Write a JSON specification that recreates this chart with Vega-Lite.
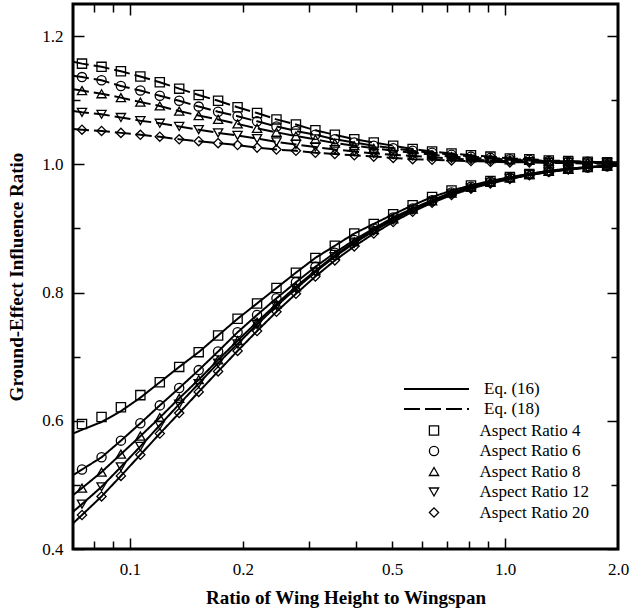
{
  "$schema": "https://vega.github.io/schema/vega-lite/v6.json",
  "width": 545,
  "height": 545,
  "autosize": {"type": "none"},
  "padding": {"left": 73, "top": 4, "right": 13, "bottom": 64},
  "background": "white",
  "config": {
    "font": "Liberation Serif",
    "view": {"stroke": "black", "strokeWidth": 3},
    "axis": {"grid": false, "domain": false, "labelFont": "Liberation Serif", "labelFontSize": 17, "labelColor": "black", "tickColor": "black", "tickWidth": 1.5, "titleFont": "Liberation Serif", "titleFontWeight": "bold", "titleFontSize": 19, "titleColor": "black"},
    "legend": {"labelFont": "Liberation Serif", "labelFontSize": 17, "labelColor": "black", "padding": 0, "title": null}
  },
  "datasets": {
    "d": [
      {"h":0.0705,"v":0.580,"a":"4","e":"16","t":"l"},
      {"h":0.0745,"v":0.586,"a":"4","e":"16","t":"l"},
      {"h":0.0840,"v":0.598,"a":"4","e":"16","t":"l"},
      {"h":0.0946,"v":0.615,"a":"4","e":"16","t":"l"},
      {"h":0.1066,"v":0.636,"a":"4","e":"16","t":"l"},
      {"h":0.0745,"v":0.595,"a":"4","e":"16","t":"m"},
      {"h":0.0840,"v":0.606,"a":"4","e":"16","t":"m"},
      {"h":0.0946,"v":0.621,"a":"4","e":"16","t":"m"},
      {"h":0.1066,"v":0.640,"a":"4","e":"16","t":"m"},
      {"h":0.1201,"v":0.660,"a":"4","e":"16","t":"b"},
      {"h":0.1353,"v":0.684,"a":"4","e":"16","t":"b"},
      {"h":0.1525,"v":0.707,"a":"4","e":"16","t":"b"},
      {"h":0.1718,"v":0.733,"a":"4","e":"16","t":"b"},
      {"h":0.1936,"v":0.759,"a":"4","e":"16","t":"b"},
      {"h":0.2182,"v":0.783,"a":"4","e":"16","t":"b"},
      {"h":0.2458,"v":0.807,"a":"4","e":"16","t":"b"},
      {"h":0.2770,"v":0.831,"a":"4","e":"16","t":"b"},
      {"h":0.3121,"v":0.854,"a":"4","e":"16","t":"b"},
      {"h":0.3517,"v":0.873,"a":"4","e":"16","t":"b"},
      {"h":0.3963,"v":0.892,"a":"4","e":"16","t":"b"},
      {"h":0.4466,"v":0.907,"a":"4","e":"16","t":"b"},
      {"h":0.5032,"v":0.922,"a":"4","e":"16","t":"b"},
      {"h":0.5670,"v":0.936,"a":"4","e":"16","t":"b"},
      {"h":0.6389,"v":0.949,"a":"4","e":"16","t":"b"},
      {"h":0.7199,"v":0.959,"a":"4","e":"16","t":"b"},
      {"h":0.8112,"v":0.967,"a":"4","e":"16","t":"b"},
      {"h":0.9140,"v":0.974,"a":"4","e":"16","t":"b"},
      {"h":1.0299,"v":0.980,"a":"4","e":"16","t":"b"},
      {"h":1.1605,"v":0.985,"a":"4","e":"16","t":"b"},
      {"h":1.3077,"v":0.990,"a":"4","e":"16","t":"b"},
      {"h":1.4735,"v":0.993,"a":"4","e":"16","t":"b"},
      {"h":1.6603,"v":0.996,"a":"4","e":"16","t":"b"},
      {"h":1.8708,"v":0.998,"a":"4","e":"16","t":"b"},
      {"h":2.0,"v":0.998,"a":"4","e":"16","t":"l"},

      {"h":0.0705,"v":0.515,"a":"6","e":"16","t":"l"},
      {"h":0.0745,"v":0.524,"a":"6","e":"16","t":"b"},
      {"h":0.0840,"v":0.543,"a":"6","e":"16","t":"b"},
      {"h":0.0946,"v":0.569,"a":"6","e":"16","t":"b"},
      {"h":0.1066,"v":0.596,"a":"6","e":"16","t":"b"},
      {"h":0.1201,"v":0.624,"a":"6","e":"16","t":"b"},
      {"h":0.1353,"v":0.651,"a":"6","e":"16","t":"b"},
      {"h":0.1525,"v":0.679,"a":"6","e":"16","t":"b"},
      {"h":0.1718,"v":0.708,"a":"6","e":"16","t":"b"},
      {"h":0.1936,"v":0.738,"a":"6","e":"16","t":"b"},
      {"h":0.2182,"v":0.765,"a":"6","e":"16","t":"b"},
      {"h":0.2458,"v":0.791,"a":"6","e":"16","t":"b"},
      {"h":0.2770,"v":0.816,"a":"6","e":"16","t":"b"},
      {"h":0.3121,"v":0.840,"a":"6","e":"16","t":"b"},
      {"h":0.3517,"v":0.862,"a":"6","e":"16","t":"b"},
      {"h":0.3963,"v":0.882,"a":"6","e":"16","t":"b"},
      {"h":0.4466,"v":0.900,"a":"6","e":"16","t":"b"},
      {"h":0.5032,"v":0.917,"a":"6","e":"16","t":"b"},
      {"h":0.5670,"v":0.931,"a":"6","e":"16","t":"b"},
      {"h":0.6389,"v":0.944,"a":"6","e":"16","t":"b"},
      {"h":0.7199,"v":0.956,"a":"6","e":"16","t":"b"},
      {"h":0.8112,"v":0.965,"a":"6","e":"16","t":"b"},
      {"h":0.9140,"v":0.973,"a":"6","e":"16","t":"b"},
      {"h":1.0299,"v":0.979,"a":"6","e":"16","t":"b"},
      {"h":1.1605,"v":0.985,"a":"6","e":"16","t":"b"},
      {"h":1.3077,"v":0.989,"a":"6","e":"16","t":"b"},
      {"h":1.4735,"v":0.993,"a":"6","e":"16","t":"b"},
      {"h":1.6603,"v":0.995,"a":"6","e":"16","t":"b"},
      {"h":1.8708,"v":0.997,"a":"6","e":"16","t":"b"},
      {"h":2.0,"v":0.998,"a":"6","e":"16","t":"l"},

      {"h":0.0705,"v":0.484,"a":"8","e":"16","t":"l"},
      {"h":0.0745,"v":0.495,"a":"8","e":"16","t":"b"},
      {"h":0.0840,"v":0.520,"a":"8","e":"16","t":"b"},
      {"h":0.0946,"v":0.548,"a":"8","e":"16","t":"b"},
      {"h":0.1066,"v":0.576,"a":"8","e":"16","t":"b"},
      {"h":0.1201,"v":0.605,"a":"8","e":"16","t":"b"},
      {"h":0.1353,"v":0.635,"a":"8","e":"16","t":"b"},
      {"h":0.1525,"v":0.664,"a":"8","e":"16","t":"b"},
      {"h":0.1718,"v":0.695,"a":"8","e":"16","t":"b"},
      {"h":0.1936,"v":0.725,"a":"8","e":"16","t":"b"},
      {"h":0.2182,"v":0.754,"a":"8","e":"16","t":"b"},
      {"h":0.2458,"v":0.782,"a":"8","e":"16","t":"b"},
      {"h":0.2770,"v":0.809,"a":"8","e":"16","t":"b"},
      {"h":0.3121,"v":0.834,"a":"8","e":"16","t":"b"},
      {"h":0.3517,"v":0.858,"a":"8","e":"16","t":"b"},
      {"h":0.3963,"v":0.879,"a":"8","e":"16","t":"b"},
      {"h":0.4466,"v":0.898,"a":"8","e":"16","t":"b"},
      {"h":0.5032,"v":0.915,"a":"8","e":"16","t":"b"},
      {"h":0.5670,"v":0.930,"a":"8","e":"16","t":"b"},
      {"h":0.6389,"v":0.943,"a":"8","e":"16","t":"b"},
      {"h":0.7199,"v":0.955,"a":"8","e":"16","t":"b"},
      {"h":0.8112,"v":0.964,"a":"8","e":"16","t":"b"},
      {"h":0.9140,"v":0.972,"a":"8","e":"16","t":"b"},
      {"h":1.0299,"v":0.979,"a":"8","e":"16","t":"b"},
      {"h":1.1605,"v":0.984,"a":"8","e":"16","t":"b"},
      {"h":1.3077,"v":0.989,"a":"8","e":"16","t":"b"},
      {"h":1.4735,"v":0.992,"a":"8","e":"16","t":"b"},
      {"h":1.6603,"v":0.995,"a":"8","e":"16","t":"b"},
      {"h":1.8708,"v":0.997,"a":"8","e":"16","t":"b"},
      {"h":2.0,"v":0.998,"a":"8","e":"16","t":"l"},

      {"h":0.0705,"v":0.458,"a":"12","e":"16","t":"l"},
      {"h":0.0745,"v":0.470,"a":"12","e":"16","t":"b"},
      {"h":0.0840,"v":0.497,"a":"12","e":"16","t":"b"},
      {"h":0.0946,"v":0.528,"a":"12","e":"16","t":"b"},
      {"h":0.1066,"v":0.560,"a":"12","e":"16","t":"b"},
      {"h":0.1201,"v":0.593,"a":"12","e":"16","t":"b"},
      {"h":0.1353,"v":0.626,"a":"12","e":"16","t":"b"},
      {"h":0.1525,"v":0.658,"a":"12","e":"16","t":"b"},
      {"h":0.1718,"v":0.690,"a":"12","e":"16","t":"b"},
      {"h":0.1936,"v":0.720,"a":"12","e":"16","t":"b"},
      {"h":0.2182,"v":0.750,"a":"12","e":"16","t":"b"},
      {"h":0.2458,"v":0.779,"a":"12","e":"16","t":"b"},
      {"h":0.2770,"v":0.806,"a":"12","e":"16","t":"b"},
      {"h":0.3121,"v":0.832,"a":"12","e":"16","t":"b"},
      {"h":0.3517,"v":0.856,"a":"12","e":"16","t":"b"},
      {"h":0.3963,"v":0.877,"a":"12","e":"16","t":"b"},
      {"h":0.4466,"v":0.896,"a":"12","e":"16","t":"b"},
      {"h":0.5032,"v":0.913,"a":"12","e":"16","t":"b"},
      {"h":0.5670,"v":0.929,"a":"12","e":"16","t":"b"},
      {"h":0.6389,"v":0.942,"a":"12","e":"16","t":"b"},
      {"h":0.7199,"v":0.954,"a":"12","e":"16","t":"b"},
      {"h":0.8112,"v":0.963,"a":"12","e":"16","t":"b"},
      {"h":0.9140,"v":0.971,"a":"12","e":"16","t":"b"},
      {"h":1.0299,"v":0.978,"a":"12","e":"16","t":"b"},
      {"h":1.1605,"v":0.984,"a":"12","e":"16","t":"b"},
      {"h":1.3077,"v":0.988,"a":"12","e":"16","t":"b"},
      {"h":1.4735,"v":0.992,"a":"12","e":"16","t":"b"},
      {"h":1.6603,"v":0.995,"a":"12","e":"16","t":"b"},
      {"h":1.8708,"v":0.997,"a":"12","e":"16","t":"b"},
      {"h":2.0,"v":0.998,"a":"12","e":"16","t":"l"},

      {"h":0.0705,"v":0.440,"a":"20","e":"16","t":"l"},
      {"h":0.0745,"v":0.453,"a":"20","e":"16","t":"b"},
      {"h":0.0840,"v":0.482,"a":"20","e":"16","t":"b"},
      {"h":0.0946,"v":0.514,"a":"20","e":"16","t":"b"},
      {"h":0.1066,"v":0.547,"a":"20","e":"16","t":"b"},
      {"h":0.1201,"v":0.580,"a":"20","e":"16","t":"b"},
      {"h":0.1353,"v":0.612,"a":"20","e":"16","t":"b"},
      {"h":0.1525,"v":0.645,"a":"20","e":"16","t":"b"},
      {"h":0.1718,"v":0.677,"a":"20","e":"16","t":"b"},
      {"h":0.1936,"v":0.709,"a":"20","e":"16","t":"b"},
      {"h":0.2182,"v":0.740,"a":"20","e":"16","t":"b"},
      {"h":0.2458,"v":0.770,"a":"20","e":"16","t":"b"},
      {"h":0.2770,"v":0.798,"a":"20","e":"16","t":"b"},
      {"h":0.3121,"v":0.825,"a":"20","e":"16","t":"b"},
      {"h":0.3517,"v":0.850,"a":"20","e":"16","t":"b"},
      {"h":0.3963,"v":0.872,"a":"20","e":"16","t":"b"},
      {"h":0.4466,"v":0.892,"a":"20","e":"16","t":"b"},
      {"h":0.5032,"v":0.910,"a":"20","e":"16","t":"b"},
      {"h":0.5670,"v":0.926,"a":"20","e":"16","t":"b"},
      {"h":0.6389,"v":0.940,"a":"20","e":"16","t":"b"},
      {"h":0.7199,"v":0.952,"a":"20","e":"16","t":"b"},
      {"h":0.8112,"v":0.962,"a":"20","e":"16","t":"b"},
      {"h":0.9140,"v":0.970,"a":"20","e":"16","t":"b"},
      {"h":1.0299,"v":0.977,"a":"20","e":"16","t":"b"},
      {"h":1.1605,"v":0.983,"a":"20","e":"16","t":"b"},
      {"h":1.3077,"v":0.988,"a":"20","e":"16","t":"b"},
      {"h":1.4735,"v":0.992,"a":"20","e":"16","t":"b"},
      {"h":1.6603,"v":0.995,"a":"20","e":"16","t":"b"},
      {"h":1.8708,"v":0.997,"a":"20","e":"16","t":"b"},
      {"h":2.0,"v":0.998,"a":"20","e":"16","t":"l"},

      {"h":0.0705,"v":1.160,"a":"4","e":"18","t":"l"},
      {"h":0.0745,"v":1.157,"a":"4","e":"18","t":"b"},
      {"h":0.0840,"v":1.152,"a":"4","e":"18","t":"b"},
      {"h":0.0946,"v":1.145,"a":"4","e":"18","t":"b"},
      {"h":0.1066,"v":1.137,"a":"4","e":"18","t":"b"},
      {"h":0.1201,"v":1.128,"a":"4","e":"18","t":"b"},
      {"h":0.1353,"v":1.118,"a":"4","e":"18","t":"b"},
      {"h":0.1525,"v":1.108,"a":"4","e":"18","t":"b"},
      {"h":0.1718,"v":1.099,"a":"4","e":"18","t":"b"},
      {"h":0.1936,"v":1.089,"a":"4","e":"18","t":"b"},
      {"h":0.2182,"v":1.080,"a":"4","e":"18","t":"b"},
      {"h":0.2458,"v":1.070,"a":"4","e":"18","t":"b"},
      {"h":0.2770,"v":1.062,"a":"4","e":"18","t":"b"},
      {"h":0.3121,"v":1.053,"a":"4","e":"18","t":"b"},
      {"h":0.3517,"v":1.046,"a":"4","e":"18","t":"b"},
      {"h":0.3963,"v":1.039,"a":"4","e":"18","t":"b"},
      {"h":0.4466,"v":1.034,"a":"4","e":"18","t":"b"},
      {"h":0.5032,"v":1.029,"a":"4","e":"18","t":"b"},
      {"h":0.5670,"v":1.024,"a":"4","e":"18","t":"b"},
      {"h":0.6389,"v":1.020,"a":"4","e":"18","t":"b"},
      {"h":0.7199,"v":1.017,"a":"4","e":"18","t":"b"},
      {"h":0.8112,"v":1.014,"a":"4","e":"18","t":"b"},
      {"h":0.9140,"v":1.012,"a":"4","e":"18","t":"b"},
      {"h":1.0299,"v":1.009,"a":"4","e":"18","t":"b"},
      {"h":1.1605,"v":1.008,"a":"4","e":"18","t":"b"},
      {"h":1.3077,"v":1.006,"a":"4","e":"18","t":"b"},
      {"h":1.4735,"v":1.005,"a":"4","e":"18","t":"b"},
      {"h":1.6603,"v":1.004,"a":"4","e":"18","t":"b"},
      {"h":1.8708,"v":1.003,"a":"4","e":"18","t":"b"},
      {"h":2.0,"v":1.003,"a":"4","e":"18","t":"l"},

      {"h":0.0705,"v":1.138,"a":"6","e":"18","t":"l"},
      {"h":0.0745,"v":1.136,"a":"6","e":"18","t":"b"},
      {"h":0.0840,"v":1.131,"a":"6","e":"18","t":"b"},
      {"h":0.0946,"v":1.122,"a":"6","e":"18","t":"b"},
      {"h":0.1066,"v":1.115,"a":"6","e":"18","t":"b"},
      {"h":0.1201,"v":1.107,"a":"6","e":"18","t":"b"},
      {"h":0.1353,"v":1.099,"a":"6","e":"18","t":"b"},
      {"h":0.1525,"v":1.090,"a":"6","e":"18","t":"b"},
      {"h":0.1718,"v":1.082,"a":"6","e":"18","t":"b"},
      {"h":0.1936,"v":1.075,"a":"6","e":"18","t":"b"},
      {"h":0.2182,"v":1.067,"a":"6","e":"18","t":"b"},
      {"h":0.2458,"v":1.059,"a":"6","e":"18","t":"b"},
      {"h":0.2770,"v":1.052,"a":"6","e":"18","t":"b"},
      {"h":0.3121,"v":1.046,"a":"6","e":"18","t":"b"},
      {"h":0.3517,"v":1.039,"a":"6","e":"18","t":"b"},
      {"h":0.3963,"v":1.034,"a":"6","e":"18","t":"b"},
      {"h":0.4466,"v":1.029,"a":"6","e":"18","t":"b"},
      {"h":0.5032,"v":1.025,"a":"6","e":"18","t":"b"},
      {"h":0.5670,"v":1.021,"a":"6","e":"18","t":"b"},
      {"h":0.6389,"v":1.018,"a":"6","e":"18","t":"b"},
      {"h":0.7199,"v":1.015,"a":"6","e":"18","t":"b"},
      {"h":0.8112,"v":1.012,"a":"6","e":"18","t":"b"},
      {"h":0.9140,"v":1.010,"a":"6","e":"18","t":"b"},
      {"h":1.0299,"v":1.008,"a":"6","e":"18","t":"b"},
      {"h":1.1605,"v":1.007,"a":"6","e":"18","t":"b"},
      {"h":1.3077,"v":1.005,"a":"6","e":"18","t":"b"},
      {"h":1.4735,"v":1.004,"a":"6","e":"18","t":"b"},
      {"h":1.6603,"v":1.004,"a":"6","e":"18","t":"b"},
      {"h":1.8708,"v":1.003,"a":"6","e":"18","t":"b"},
      {"h":2.0,"v":1.002,"a":"6","e":"18","t":"l"},

      {"h":0.0705,"v":1.117,"a":"8","e":"18","t":"l"},
      {"h":0.0745,"v":1.115,"a":"8","e":"18","t":"b"},
      {"h":0.0840,"v":1.110,"a":"8","e":"18","t":"b"},
      {"h":0.0946,"v":1.104,"a":"8","e":"18","t":"b"},
      {"h":0.1066,"v":1.097,"a":"8","e":"18","t":"b"},
      {"h":0.1201,"v":1.091,"a":"8","e":"18","t":"b"},
      {"h":0.1353,"v":1.083,"a":"8","e":"18","t":"b"},
      {"h":0.1525,"v":1.076,"a":"8","e":"18","t":"b"},
      {"h":0.1718,"v":1.070,"a":"8","e":"18","t":"b"},
      {"h":0.1936,"v":1.063,"a":"8","e":"18","t":"b"},
      {"h":0.2182,"v":1.056,"a":"8","e":"18","t":"b"},
      {"h":0.2458,"v":1.050,"a":"8","e":"18","t":"b"},
      {"h":0.2770,"v":1.044,"a":"8","e":"18","t":"b"},
      {"h":0.3121,"v":1.039,"a":"8","e":"18","t":"b"},
      {"h":0.3517,"v":1.033,"a":"8","e":"18","t":"b"},
      {"h":0.3963,"v":1.029,"a":"8","e":"18","t":"b"},
      {"h":0.4466,"v":1.025,"a":"8","e":"18","t":"b"},
      {"h":0.5032,"v":1.021,"a":"8","e":"18","t":"b"},
      {"h":0.5670,"v":1.018,"a":"8","e":"18","t":"b"},
      {"h":0.6389,"v":1.015,"a":"8","e":"18","t":"b"},
      {"h":0.7199,"v":1.012,"a":"8","e":"18","t":"b"},
      {"h":0.8112,"v":1.010,"a":"8","e":"18","t":"b"},
      {"h":0.9140,"v":1.009,"a":"8","e":"18","t":"b"},
      {"h":1.0299,"v":1.007,"a":"8","e":"18","t":"b"},
      {"h":1.1605,"v":1.006,"a":"8","e":"18","t":"b"},
      {"h":1.3077,"v":1.005,"a":"8","e":"18","t":"b"},
      {"h":1.4735,"v":1.004,"a":"8","e":"18","t":"b"},
      {"h":1.6603,"v":1.003,"a":"8","e":"18","t":"b"},
      {"h":1.8708,"v":1.002,"a":"8","e":"18","t":"b"},
      {"h":2.0,"v":1.002,"a":"8","e":"18","t":"l"},

      {"h":0.0705,"v":1.083,"a":"12","e":"18","t":"l"},
      {"h":0.0745,"v":1.081,"a":"12","e":"18","t":"b"},
      {"h":0.0840,"v":1.078,"a":"12","e":"18","t":"b"},
      {"h":0.0946,"v":1.073,"a":"12","e":"18","t":"b"},
      {"h":0.1066,"v":1.068,"a":"12","e":"18","t":"b"},
      {"h":0.1201,"v":1.064,"a":"12","e":"18","t":"b"},
      {"h":0.1353,"v":1.059,"a":"12","e":"18","t":"b"},
      {"h":0.1525,"v":1.054,"a":"12","e":"18","t":"b"},
      {"h":0.1718,"v":1.049,"a":"12","e":"18","t":"b"},
      {"h":0.1936,"v":1.045,"a":"12","e":"18","t":"b"},
      {"h":0.2182,"v":1.040,"a":"12","e":"18","t":"b"},
      {"h":0.2458,"v":1.035,"a":"12","e":"18","t":"b"},
      {"h":0.2770,"v":1.031,"a":"12","e":"18","t":"b"},
      {"h":0.3121,"v":1.027,"a":"12","e":"18","t":"b"},
      {"h":0.3517,"v":1.023,"a":"12","e":"18","t":"b"},
      {"h":0.3963,"v":1.020,"a":"12","e":"18","t":"b"},
      {"h":0.4466,"v":1.017,"a":"12","e":"18","t":"b"},
      {"h":0.5032,"v":1.015,"a":"12","e":"18","t":"b"},
      {"h":0.5670,"v":1.013,"a":"12","e":"18","t":"b"},
      {"h":0.6389,"v":1.011,"a":"12","e":"18","t":"b"},
      {"h":0.7199,"v":1.009,"a":"12","e":"18","t":"b"},
      {"h":0.8112,"v":1.007,"a":"12","e":"18","t":"b"},
      {"h":0.9140,"v":1.006,"a":"12","e":"18","t":"b"},
      {"h":1.0299,"v":1.005,"a":"12","e":"18","t":"b"},
      {"h":1.1605,"v":1.004,"a":"12","e":"18","t":"b"},
      {"h":1.3077,"v":1.003,"a":"12","e":"18","t":"b"},
      {"h":1.4735,"v":1.003,"a":"12","e":"18","t":"b"},
      {"h":1.6603,"v":1.002,"a":"12","e":"18","t":"b"},
      {"h":1.8708,"v":1.002,"a":"12","e":"18","t":"b"},
      {"h":2.0,"v":1.002,"a":"12","e":"18","t":"l"},

      {"h":0.0705,"v":1.055,"a":"20","e":"18","t":"l"},
      {"h":0.0745,"v":1.054,"a":"20","e":"18","t":"b"},
      {"h":0.0840,"v":1.052,"a":"20","e":"18","t":"b"},
      {"h":0.0946,"v":1.049,"a":"20","e":"18","t":"b"},
      {"h":0.1066,"v":1.046,"a":"20","e":"18","t":"b"},
      {"h":0.1201,"v":1.043,"a":"20","e":"18","t":"b"},
      {"h":0.1353,"v":1.039,"a":"20","e":"18","t":"b"},
      {"h":0.1525,"v":1.036,"a":"20","e":"18","t":"b"},
      {"h":0.1718,"v":1.033,"a":"20","e":"18","t":"b"},
      {"h":0.1936,"v":1.030,"a":"20","e":"18","t":"b"},
      {"h":0.2182,"v":1.026,"a":"20","e":"18","t":"b"},
      {"h":0.2458,"v":1.023,"a":"20","e":"18","t":"b"},
      {"h":0.2770,"v":1.021,"a":"20","e":"18","t":"b"},
      {"h":0.3121,"v":1.018,"a":"20","e":"18","t":"b"},
      {"h":0.3517,"v":1.016,"a":"20","e":"18","t":"b"},
      {"h":0.3963,"v":1.014,"a":"20","e":"18","t":"b"},
      {"h":0.4466,"v":1.012,"a":"20","e":"18","t":"b"},
      {"h":0.5032,"v":1.010,"a":"20","e":"18","t":"b"},
      {"h":0.5670,"v":1.008,"a":"20","e":"18","t":"b"},
      {"h":0.6389,"v":1.007,"a":"20","e":"18","t":"b"},
      {"h":0.7199,"v":1.006,"a":"20","e":"18","t":"b"},
      {"h":0.8112,"v":1.005,"a":"20","e":"18","t":"b"},
      {"h":0.9140,"v":1.004,"a":"20","e":"18","t":"b"},
      {"h":1.0299,"v":1.003,"a":"20","e":"18","t":"b"},
      {"h":1.1605,"v":1.003,"a":"20","e":"18","t":"b"},
      {"h":1.3077,"v":1.002,"a":"20","e":"18","t":"b"},
      {"h":1.4735,"v":1.002,"a":"20","e":"18","t":"b"},
      {"h":1.6603,"v":1.001,"a":"20","e":"18","t":"b"},
      {"h":1.8708,"v":1.001,"a":"20","e":"18","t":"b"},
      {"h":2.0,"v":1.001,"a":"20","e":"18","t":"l"}
    ],
    "dummy": [{"h": 1, "v": 1}]
  },
  "resolve": {"axis": {"x": "independent", "y": "independent"}},
  "layer": [
    {
      "data": {"name": "d"},
      "transform": [{"filter": "datum.t != 'm'"}],
      "mark": {"type": "line", "color": "black", "strokeWidth": 2, "clip": true},
      "encoding": {
        "x": {"field": "h", "type": "quantitative", "scale": {"type": "log", "domain": [0.0705, 2], "nice": false},
              "axis": {"orient": "bottom", "values": [0.1, 0.2, 0.5, 1, 2], "format": ".1f", "ticks": false, "labelPadding": 12, "labelFlush": false, "labelOverlap": false, "title": "Ratio of Wing Height to Wingspan", "titlePadding": 11}},
        "y": {"field": "v", "type": "quantitative", "scale": {"domain": [0.4, 1.25], "nice": false, "zero": false},
              "axis": {"orient": "left", "values": [0.4, 0.6, 0.8, 1.0, 1.2], "format": ".1f", "ticks": false, "labelPadding": 10, "labelFlush": false, "labelOverlap": false, "title": "Ground-Effect Influence Ratio", "titlePadding": 15}},
        "strokeDash": {"field": "e", "type": "nominal", "scale": {"domain": ["16", "18"], "range": [[1, 0], [16, 5]]},
                       "legend": {"orient": "none", "legendX": 351.5, "legendY": 373, "symbolType": "M-3,0H3", "symbolSize": 470, "symbolStrokeWidth": 2, "symbolStrokeColor": "black", "labelOffset": 35.5, "rowPadding": 0, "labelExpr": "'Eq. (' + datum.label + ')'"}},
        "detail": {"field": "a", "type": "nominal"}
      }
    },
    {
      "data": {"name": "d"},
      "transform": [{"filter": "datum.t != 'l'"}],
      "mark": {"type": "point", "filled": false, "color": "black", "strokeWidth": 1.3, "size": 85, "opacity": 1},
      "encoding": {
        "x": {"field": "h", "type": "quantitative", "scale": {"type": "log", "domain": [0.0705, 2], "nice": false},
              "axis": {"orient": "bottom", "values": [0.1, 1], "labels": false, "tickSize": -11, "title": null}},
        "y": {"field": "v", "type": "quantitative", "scale": {"domain": [0.4, 1.25], "nice": false, "zero": false},
              "axis": {"orient": "left", "values": [0.4, 0.6, 0.8, 1.0, 1.2], "labels": false, "tickSize": -11, "title": null}},
        "shape": {"field": "a", "type": "nominal", "scale": {"domain": ["4", "6", "8", "12", "20"], "range": ["square", "circle", "triangle-up", "triangle-down", "diamond"]},
                  "legend": {"orient": "none", "legendX": 352.5, "legendY": 418, "symbolSize": 85, "symbolStrokeWidth": 1.3, "symbolStrokeColor": "black", "symbolFillColor": "transparent", "labelOffset": 37, "rowPadding": 2.5, "labelExpr": "'Aspect Ratio ' + datum.label"}}
      }
    },
    {
      "data": {"name": "dummy"},
      "mark": {"type": "point", "opacity": 0},
      "encoding": {
        "x": {"field": "h", "type": "quantitative", "scale": {"type": "log", "domain": [0.0705, 2], "nice": false},
              "axis": {"orient": "bottom", "values": [0.08, 0.09, 0.2, 0.3, 0.4, 0.5, 0.6, 0.7, 0.8, 0.9], "labels": false, "tickSize": -8, "title": null}},
        "y": {"field": "v", "type": "quantitative", "scale": {"domain": [0.4, 1.25], "nice": false, "zero": false},
              "axis": {"orient": "left", "values": [0.5, 0.7, 0.9, 1.1], "labels": false, "tickSize": -7, "title": null}}
      }
    },
    {
      "data": {"name": "dummy"},
      "mark": {"type": "point", "opacity": 0},
      "encoding": {
        "x": {"field": "h", "type": "quantitative", "scale": {"type": "log", "domain": [0.0705, 2], "nice": false},
              "axis": {"orient": "top", "values": [0.1, 1], "labels": false, "tickSize": -11, "title": null}},
        "y": {"field": "v", "type": "quantitative", "scale": {"domain": [0.4, 1.25], "nice": false, "zero": false},
              "axis": {"orient": "right", "values": [0.4, 0.6, 0.8, 1.0, 1.2], "labels": false, "tickSize": -11, "title": null}}
      }
    },
    {
      "data": {"name": "dummy"},
      "mark": {"type": "point", "opacity": 0},
      "encoding": {
        "x": {"field": "h", "type": "quantitative", "scale": {"type": "log", "domain": [0.0705, 2], "nice": false},
              "axis": {"orient": "top", "values": [0.08, 0.09, 0.2, 0.3, 0.4, 0.5, 0.6, 0.7, 0.8, 0.9], "labels": false, "tickSize": -8, "title": null}},
        "y": {"field": "v", "type": "quantitative", "scale": {"domain": [0.4, 1.25], "nice": false, "zero": false},
              "axis": {"orient": "right", "values": [0.5, 0.7, 0.9, 1.1], "labels": false, "tickSize": -7, "title": null}}
      }
    }
  ]
}
